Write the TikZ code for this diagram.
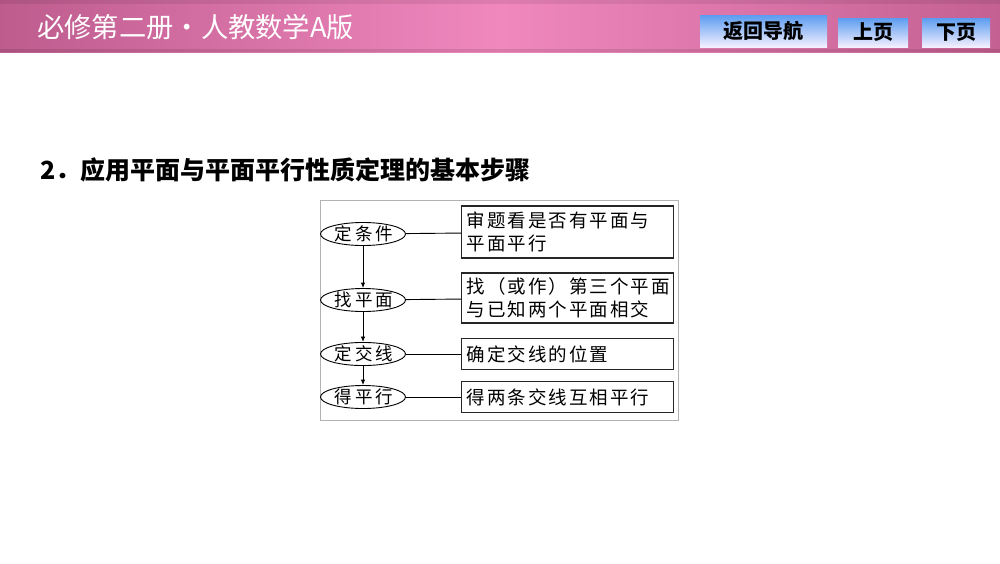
\documentclass[tikz,border=0pt]{standalone}
\usepackage{fontspec}
\setmainfont{Noto Sans CJK SC}
\newfontfamily\cjk{Noto Sans CJK SC}
\newfontfamily\cjkwide[LetterSpace=11]{Noto Sans CJK SC}
\newfontfamily\cjkell[LetterSpace=16]{Noto Sans CJK SC}
\usetikzlibrary{shapes.geometric,arrows.meta}
\definecolor{barleft}{RGB}{190,92,142}
\definecolor{barmid}{RGB}{240,136,190}
\definecolor{barright}{RGB}{196,96,146}
\definecolor{btntop}{RGB}{92,156,240}
\definecolor{btnbot}{RGB}{244,240,255}
\begin{document}
\begin{tikzpicture}[x=1pt,y=-1pt,
  stepell/.style={ellipse, draw, line width=0.9pt, minimum width=84pt, minimum height=23pt, inner sep=0pt, font=\cjkell\fontsize{17.5}{20}\selectfont},
  stepbox/.style={draw=black!85, line width=1.1pt, anchor=west, text width=202pt, inner xsep=5pt, align=left, font=\cjkwide\fontsize{18.5}{23}\selectfont},
  navbtn/.style={top color=btntop, bottom color=btnbot, draw=none, inner sep=0pt, font=\cjk\bfseries\fontsize{20}{22}\selectfont},
  link/.style={line width=0.9pt},
  flow/.style={line width=0.9pt, -{Latex[length=5.5pt,width=4.5pt]}}]
\useasboundingbox (0,0) rectangle (1000,563);
\fill[white] (0,0) rectangle (1000,563);
% header bar
\shade[left color=barleft, right color=barright, middle color=barmid] (0,0) rectangle (1000,52);
\fill[black, opacity=0.08] (0,0) rectangle (1000,4);
\fill[black, opacity=0.10] (0,49) rectangle (1000,52);
\node[anchor=west, text=white, inner sep=0pt, font=\cjk\fontsize{27.3}{29}\selectfont] (title) at (37,27) {必修第二册・人教数学A版};
\node[navbtn, minimum width=127pt, minimum height=32pt] (back) at (763.5,31) {返回导航};
\node[navbtn, minimum width=70pt, minimum height=29pt] (prev) at (873,32.5) {上页};
\node[navbtn, minimum width=68pt, minimum height=29pt] (next) at (956,32.5) {下页};
% heading
\node[anchor=west, inner sep=0pt, font=\cjk\bfseries\fontsize{25}{27}\selectfont] (head) at (40,170) {2．应用平面与平面平行性质定理的基本步骤};
% diagram
\draw[black!30, line width=0.8pt] (320,200) rectangle (678,420);
\node[stepell] (tiaojian) at (363,234) {\hspace{2pt}定条件};
\node[stepell] (zhao) at (363,300) {\hspace{2pt}找平面};
\node[stepell] (jiaoxian) at (363,354) {\hspace{2pt}定交线};
\node[stepell] (pingxing) at (363,397) {\hspace{2pt}得平行};
\node[stepbox, minimum height=52pt] (b1) at (461,232) {审题看是否有平面与\\平面平行};
\node[stepbox, minimum height=50pt] (b2) at (461,298) {找（或作）第三个平面\\与已知两个平面相交};
\node[stepbox, minimum height=31pt] (b3) at (461,354) {确定交线的位置};
\node[stepbox, minimum height=31pt] (b4) at (461,397) {得两条交线互相平行};
\draw[flow] (tiaojian) -- (zhao);
\draw[flow] (zhao) -- (jiaoxian);
\draw[flow] (jiaoxian) -- (pingxing);
\draw[link] (tiaojian) -- (b1);
\draw[link] (zhao) -- (b2);
\draw[link] (jiaoxian) -- (b3);
\draw[link] (pingxing) -- (b4);
\end{tikzpicture}
\end{document}
